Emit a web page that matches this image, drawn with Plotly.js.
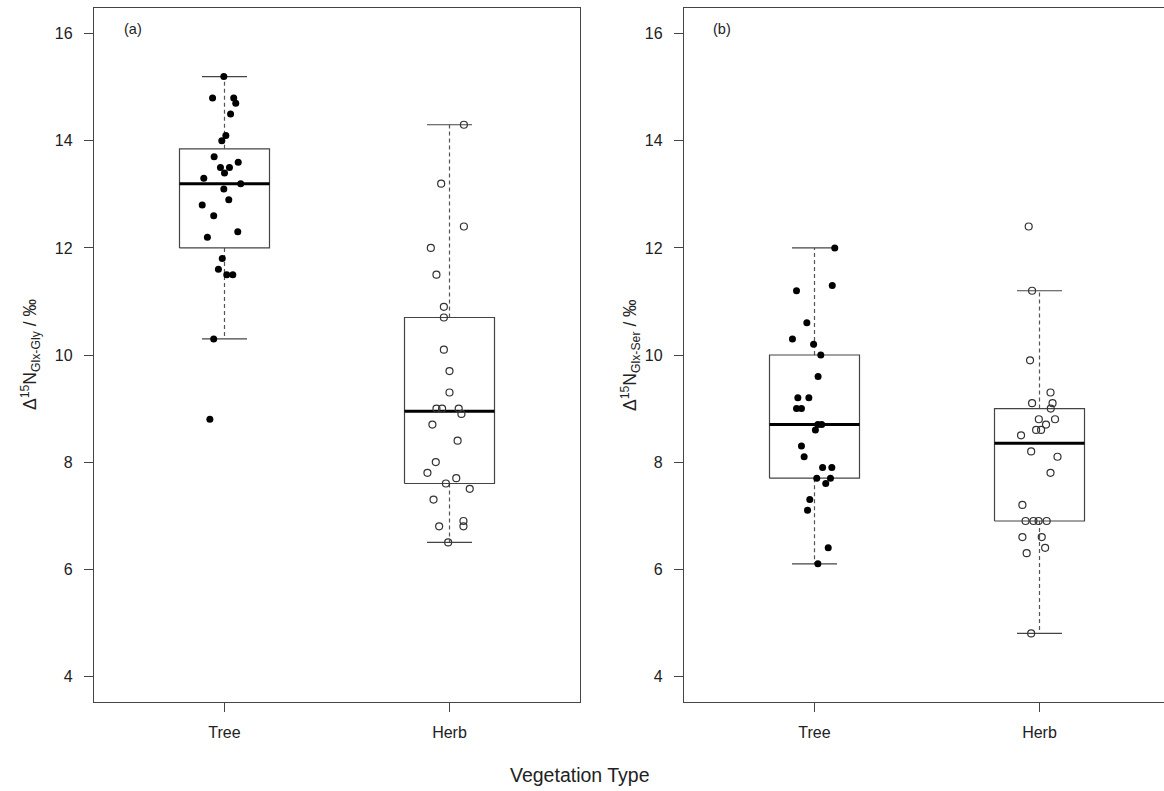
<!DOCTYPE html>
<html>
<head>
<meta charset="utf-8">
<script src="https://cdn.plot.ly/plotly-3.0.1.min.js"></script>
<style>
  html, body { margin: 0; padding: 0; overflow: hidden; background: #fff; }
  #chart { width: 1170px; height: 791px; }
</style>
</head>
<body>
<div id="chart"></div>
<script>
// ---- categories / ticks ----
const categories = ["Tree", "Herb"];
const categoryPos = [1, 2];
const yTicks = [4, 6, 8, 10, 12, 14, 16];

// ---- panel (a): Δ15N Glx-Gly ----
const treeA = [15.2,14.8,14.8,14.7,14.5,14.1,14.0,13.7,13.6,13.5,13.5,13.4,13.3,13.2,13.1,12.9,12.8,12.6,12.3,12.2,11.8,11.6,11.5,11.5,10.3,8.8];
const treeAJitter = [-0.003,-0.053,0.041,0.050,0.027,0.006,-0.012,-0.046,0.061,-0.018,0.022,0,-0.092,0.072,-0.003,0.019,-0.099,-0.048,0.059,-0.076,-0.010,-0.027,0.010,0.037,-0.048,-0.065];
const herbA = [14.3,13.2,12.4,12.0,11.5,10.9,10.7,10.1,9.7,9.3,9.0,9.0,9.0,8.9,8.7,8.4,8.0,7.8,7.7,7.6,7.5,7.3,6.9,6.8,6.8,6.5];
const herbAJitter = [0.064,-0.037,0.064,-0.083,-0.058,-0.025,-0.025,-0.025,0,0,-0.058,-0.033,0.041,0.053,-0.076,0.036,-0.061,-0.098,0.030,-0.016,0.090,-0.071,0.062,0.062,-0.046,-0.006];
// box statistics [Tree, Herb]
const q1A = [12.0, 7.6];
const medianA = [13.2, 8.95];
const q3A = [13.85, 10.7];
const lowWhiskerA = [10.3, 6.5];
const highWhiskerA = [15.2, 14.3];

// ---- panel (b): Δ15N Glx-Ser ----
const treeB = [12.0,11.2,11.3,10.6,10.3,10.2,10.0,9.6,9.2,9.2,9.0,9.0,8.7,8.7,8.6,8.3,8.1,7.9,7.9,7.7,7.7,7.6,7.3,7.1,6.4,6.1];
const treeBJitter = [0.090,-0.080,0.079,-0.034,-0.098,-0.004,0.028,0.016,-0.074,-0.025,-0.080,-0.058,0.015,0.032,0.004,-0.058,-0.046,0.036,0.077,0.010,0.071,0.050,-0.021,-0.031,0.061,0.015];
const herbB = [12.4,11.2,9.9,9.3,9.1,9.1,9.0,8.8,8.8,8.7,8.6,8.6,8.5,8.2,8.1,7.8,7.2,6.9,6.9,6.9,6.9,6.6,6.6,6.4,6.3,4.8];
const herbBJitter = [-0.048,-0.033,-0.042,0.049,0.058,-0.033,0.050,0.069,-0.003,0.029,-0.015,0.007,-0.082,-0.037,0.080,0.049,-0.076,-0.062,-0.027,-0.004,0.032,-0.076,0.010,0.025,-0.057,-0.037];
const q1B = [7.7, 6.9];
const medianB = [8.7, 8.35];
const q3B = [10.0, 9.0];
const lowWhiskerB = [6.1, 4.8];
const highWhiskerB = [12.0, 11.2];

// ---- styling ----
const FONT = '"Liberation Sans", Arial, "DejaVu Sans", sans-serif';
const BOX_HALF = 0.2, CAP_HALF = 0.1;
const LINE_COL = '#444';

function boxTraces(xa, ya, q1, med, q3, lo, hi) {
  const tr = [];
  for (let i = 0; i < categoryPos.length; i++) {
    const c = categoryPos[i];
    // whiskers (dashed)
    tr.push({x: [c, c, null, c, c], y: [q3[i], hi[i], null, q1[i], lo[i]], xaxis: xa, yaxis: ya,
      mode: 'lines', line: {color: '#555', width: 1.2, dash: '4px,3px'}, hoverinfo: 'skip'});
    // caps
    tr.push({x: [c - CAP_HALF, c + CAP_HALF, null, c - CAP_HALF, c + CAP_HALF], y: [hi[i], hi[i], null, lo[i], lo[i]],
      xaxis: xa, yaxis: ya, mode: 'lines', line: {color: LINE_COL, width: 1.2}, hoverinfo: 'skip'});
    // box
    tr.push({x: [c - BOX_HALF, c + BOX_HALF, c + BOX_HALF, c - BOX_HALF, c - BOX_HALF],
      y: [q1[i], q1[i], q3[i], q3[i], q1[i]], xaxis: xa, yaxis: ya,
      mode: 'lines', line: {color: LINE_COL, width: 1.2}, hoverinfo: 'skip'});
    // median
    tr.push({x: [c - BOX_HALF, c + BOX_HALF], y: [med[i], med[i]], xaxis: xa, yaxis: ya,
      mode: 'lines', line: {color: '#000', width: 3}, hoverinfo: 'skip'});
  }
  return tr;
}

function pointTrace(xa, ya, pos, vals, jit, filled) {
  return {
    x: vals.map((v, i) => pos + jit[i]), y: vals, xaxis: xa, yaxis: ya, mode: 'markers',
    marker: filled ? {symbol: 'circle', size: 7, color: '#000', line: {width: 0}}
                   : {symbol: 'circle-open', size: 7, color: '#333', line: {width: 1.2, color: '#333'}},
    hoverinfo: 'y'
  };
}

const traces = [].concat(
  boxTraces('x', 'y', q1A, medianA, q3A, lowWhiskerA, highWhiskerA),
  boxTraces('x2', 'y2', q1B, medianB, q3B, lowWhiskerB, highWhiskerB),
  [pointTrace('x', 'y', categoryPos[0], treeA, treeAJitter, true),
   pointTrace('x', 'y', categoryPos[1], herbA, herbAJitter, false),
   pointTrace('x2', 'y2', categoryPos[0], treeB, treeBJitter, true),
   pointTrace('x2', 'y2', categoryPos[1], herbB, herbBJitter, false)]
);

const W = 1170, H = 791;
const xAxisCommon = {
  range: [0.42, 2.58], tickvals: categoryPos, ticktext: categories,
  ticks: 'outside', ticklen: 9, tickwidth: 1, tickcolor: LINE_COL,
  showline: true, mirror: true, linecolor: LINE_COL, linewidth: 1.2,
  showgrid: false, zeroline: false, ticklabelstandoff: 7,
  tickfont: {family: FONT, size: 16, color: '#222'}, fixedrange: true
};
const yAxisCommon = {
  range: [3.52, 16.48], tickvals: yTicks,
  ticks: 'outside', ticklen: 9, tickwidth: 1, tickcolor: LINE_COL,
  showline: true, mirror: true, linecolor: LINE_COL, linewidth: 1.2,
  showgrid: false, zeroline: false, ticklabelstandoff: 8,
  tickfont: {family: FONT, size: 16, color: '#222'}, fixedrange: true
};

const layout = {
  width: W, height: H,
  margin: {l: 0, r: 0, t: 8, b: 89},
  paper_bgcolor: '#fff', plot_bgcolor: '#fff',
  showlegend: false,
  font: {family: FONT, color: '#222'},
  xaxis: Object.assign({}, xAxisCommon, {domain: [94 / W, 580 / W], anchor: 'y'}),
  yaxis: Object.assign({}, yAxisCommon, {domain: [0, 1], anchor: 'x'}),
  xaxis2: Object.assign({}, xAxisCommon, {domain: [684 / W, 1], anchor: 'y2'}),
  yaxis2: Object.assign({}, yAxisCommon, {domain: [0, 1], anchor: 'x2'}),
  annotations: [
    {text: '(a)', xref: 'x domain', yref: 'y domain', x: 0.08, y: 0.97, xanchor: 'center', yanchor: 'middle',
     showarrow: false, font: {family: FONT, size: 14.5, color: '#222'}},
    {text: '(b)', xref: 'x2 domain', yref: 'y2 domain', x: 0.078, y: 0.97, xanchor: 'center', yanchor: 'middle',
     showarrow: false, font: {family: FONT, size: 14.5, color: '#222'}},
    {text: 'Vegetation Type', xref: 'paper', yref: 'paper', x: 580 / W, y: -73 / 694, xanchor: 'center', yanchor: 'middle',
     showarrow: false, font: {family: FONT, size: 19.5, color: '#222'}},
    {text: 'Δ<sup>15</sup>N<sub>Glx-Gly</sub> / ‰', xref: 'paper', yref: 'paper', x: 30 / W, y: 0.5, textangle: -90,
     xanchor: 'center', yanchor: 'middle', showarrow: false, font: {family: FONT, size: 17.5, color: '#222'}},
    {text: 'Δ<sup>15</sup>N<sub>Glx-Ser</sub> / ‰', xref: 'paper', yref: 'paper', x: 630 / W, y: 0.5, textangle: -90,
     xanchor: 'center', yanchor: 'middle', showarrow: false, font: {family: FONT, size: 17.5, color: '#222'}}
  ]
};

Plotly.newPlot('chart', traces, layout, {displayModeBar: false, staticPlot: true});
</script>
</body>
</html>
